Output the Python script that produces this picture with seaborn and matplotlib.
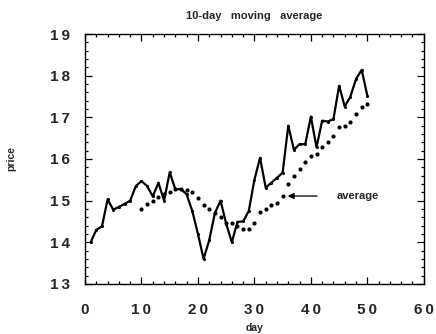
import matplotlib
matplotlib.use("Agg")
import matplotlib.pyplot as plt
from matplotlib.ticker import MultipleLocator, FixedLocator, FixedFormatter
import pandas as pd
import seaborn as sns

# Daily closing prices, days 1..50
days = list(range(1, 51))
price = [14.00, 14.30, 14.38, 15.03, 14.78, 14.85, 14.92, 15.00, 15.35, 15.47,
         15.35, 15.10, 15.43, 15.00, 15.68, 15.27, 15.28, 15.15, 14.75, 14.20,
         13.60, 14.05, 14.70, 15.00, 14.45, 14.00, 14.49, 14.50, 14.75, 15.50,
         16.03, 15.31, 15.43, 15.55, 15.67, 16.80, 16.22, 16.36, 16.35, 17.02,
         16.28, 16.92, 16.90, 16.96, 17.76, 17.26, 17.50, 17.92, 18.14, 17.52]

# 10-day moving average, available from day 10 onwards
avg_days = list(range(10, 51))
avg = [14.79, 14.93, 15.00, 15.08, 15.17, 15.21, 15.27, 15.27, 15.25, 15.21,
       15.07, 14.90, 14.80, 14.71, 14.60, 14.47, 14.46, 14.38, 14.32, 14.31,
       14.47, 14.73, 14.81, 14.89, 14.95, 15.11, 15.39, 15.59, 15.75, 15.92,
       16.06, 16.12, 16.28, 16.41, 16.54, 16.76, 16.80, 16.89, 17.08, 17.26,
       17.32]

x_ticks = [0, 10, 20, 30, 40, 50, 60]
y_ticks = [13, 14, 15, 16, 17, 18, 19]

arrow_day = 35
label_text = "average"

sns.set_theme(style="ticks")
plt.rcParams["font.family"] = ["Liberation Sans", "DejaVu Sans"]


def spaced(v):
    # widely tracked digits for the tick labels
    return "\u2009".join(str(v))


df_price = pd.DataFrame({"day": days, "price": price})
df_avg = pd.DataFrame({"day": avg_days, "price": avg})

fig = plt.figure(figsize=(4.36, 3.34), dpi=100)
ax = fig.add_axes([0.195, 0.150, 0.777, 0.748])

sns.lineplot(data=df_price, x="day", y="price", ax=ax, color="black",
             linewidth=1.6, marker="o", markersize=2.2, markeredgewidth=0)
sns.scatterplot(data=df_avg, x="day", y="price", ax=ax, color="black",
                s=9, linewidth=0)

ax.set_xlim(0, 60)
ax.set_ylim(13, 19)
ax.xaxis.set_major_locator(FixedLocator(x_ticks))
ax.xaxis.set_major_formatter(FixedFormatter([spaced(v) for v in x_ticks]))
ax.xaxis.set_minor_locator(MultipleLocator(2))
ax.yaxis.set_major_locator(FixedLocator(y_ticks))
ax.yaxis.set_major_formatter(FixedFormatter([spaced(v) for v in y_ticks]))
ax.yaxis.set_minor_locator(MultipleLocator(0.2))
ax.tick_params(which="both", direction="in", top=True, right=True,
               color="black", width=0.9)
ax.tick_params(axis="x", which="major", length=5, labelsize=11, pad=14)
ax.tick_params(axis="y", which="major", length=5, labelsize=11, pad=11)
ax.tick_params(which="minor", length=2.5)
for lab in ax.get_xticklabels() + ax.get_yticklabels():
    lab.set_fontweight("bold")
for sp in ax.spines.values():
    sp.set_color("black")
    sp.set_linewidth(1.0)

ax.set_xlabel("day", fontsize=7.5, fontweight="bold", labelpad=4)
ax.set_ylabel("price", fontsize=7.5, fontweight="bold", labelpad=24)
ax.set_title("10-day   moving   average", fontsize=8, fontweight="bold", pad=11)

y_arrow = avg[avg_days.index(arrow_day)]
ax.annotate("", xy=(arrow_day + 0.4, y_arrow), xytext=(41.6, y_arrow),
            arrowprops=dict(arrowstyle="-|>", color="black", lw=0.9,
                            mutation_scale=9))
ax.text(44.5, y_arrow, label_text, fontsize=8, fontweight="bold",
        ha="left", va="center")

fig.savefig("out.png", dpi=100)
